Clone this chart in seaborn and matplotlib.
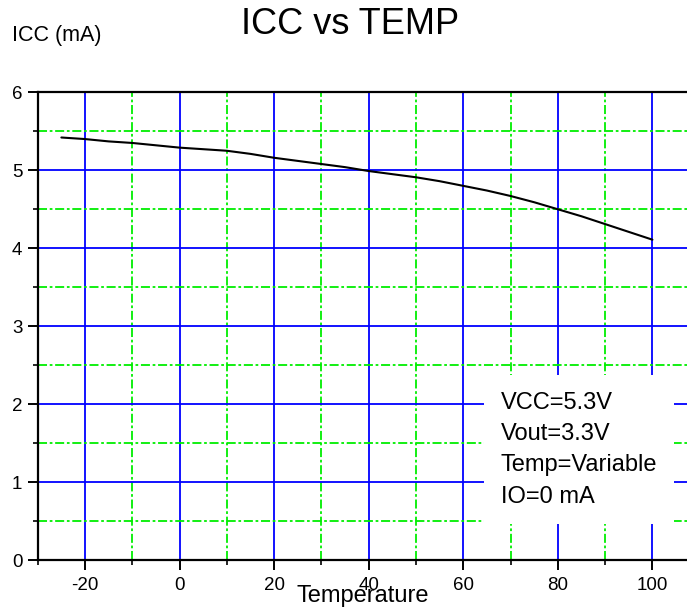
import matplotlib
matplotlib.use("Agg")
import matplotlib.pyplot as plt
from matplotlib.ticker import MultipleLocator
import seaborn as sns
import pandas as pd

# data
temp = [-25, -20, -15, -10, -5, 0, 5, 10, 15, 20, 25, 30, 35, 40, 45, 50,
        55, 60, 65, 70, 75, 80, 85, 90, 95, 100]
icc = [5.42, 5.40, 5.37, 5.35, 5.32, 5.29, 5.27, 5.25, 5.21, 5.16, 5.12, 5.08,
       5.04, 4.99, 4.95, 4.91, 4.86, 4.80, 4.74, 4.67, 4.59, 4.50, 4.41, 4.31,
       4.21, 4.11]
conditions = ["VCC=5.3V", "Vout=3.3V", "Temp=Variable", "IO=0 mA"]

sns.set_style("ticks")
plt.rcParams["font.family"] = ["Liberation Sans", "DejaVu Sans"]
plt.rcParams["axes.unicode_minus"] = False
plt.rcParams["text.color"] = "black"
plt.rcParams["xtick.color"] = "black"
plt.rcParams["ytick.color"] = "black"

df = pd.DataFrame({"Temperature": temp, "ICC": icc})

fig = plt.figure(figsize=(6.87, 6.13), dpi=100)
ax = fig.add_axes([0.0549, 0.086, 0.945, 0.7635])

sns.lineplot(data=df, x="Temperature", y="ICC", ax=ax, color="black", lw=1.5, zorder=3)

ax.set_xlim(-30, 107.3)
ax.set_ylim(0, 6)
ax.xaxis.set_major_locator(MultipleLocator(20))
ax.xaxis.set_minor_locator(MultipleLocator(10))
ax.yaxis.set_major_locator(MultipleLocator(1))
ax.yaxis.set_minor_locator(MultipleLocator(0.5))

ax.grid(which="major", color="#0000ff", lw=1.3, ls="-")
ax.grid(which="minor", color="#00ee00", lw=1.3, ls=(0, (5, 1.5, 1.5, 1.5)))

for s in ["left", "bottom", "top"]:
    ax.spines[s].set_color("black")
    ax.spines[s].set_linewidth(1.6)
ax.spines["right"].set_visible(False)

ax.tick_params(which="major", direction="out", length=7, width=1.4, color="black",
               labelsize=13.5, labelcolor="black")
ax.tick_params(axis="x", which="major", pad=5)
ax.tick_params(axis="y", which="major", pad=4)
ax.tick_params(which="minor", direction="out", length=3.5, width=1.2, color="black")

ax.set_xlabel("")
ax.set_ylabel("")

# box with conditions, white background hides the grid
ax.text(67.9, 2.16, "\n".join(conditions), fontsize=17, va="top", ha="left",
        linespacing=1.55, zorder=4,
        bbox=dict(boxstyle="square,pad=0.7", facecolor="white", edgecolor="none"))

fig.text(350 / 687, 1 - 25 / 613, "ICC vs TEMP", fontsize=26, ha="center", va="center")
fig.text(12 / 687, 1 - 36 / 613, "ICC (mA)", fontsize=15.5, ha="left", va="center")
fig.text(363 / 687, 1 - 596 / 613, "Temperature", fontsize=17, ha="center", va="center")

fig.savefig("out.png", dpi=100)
